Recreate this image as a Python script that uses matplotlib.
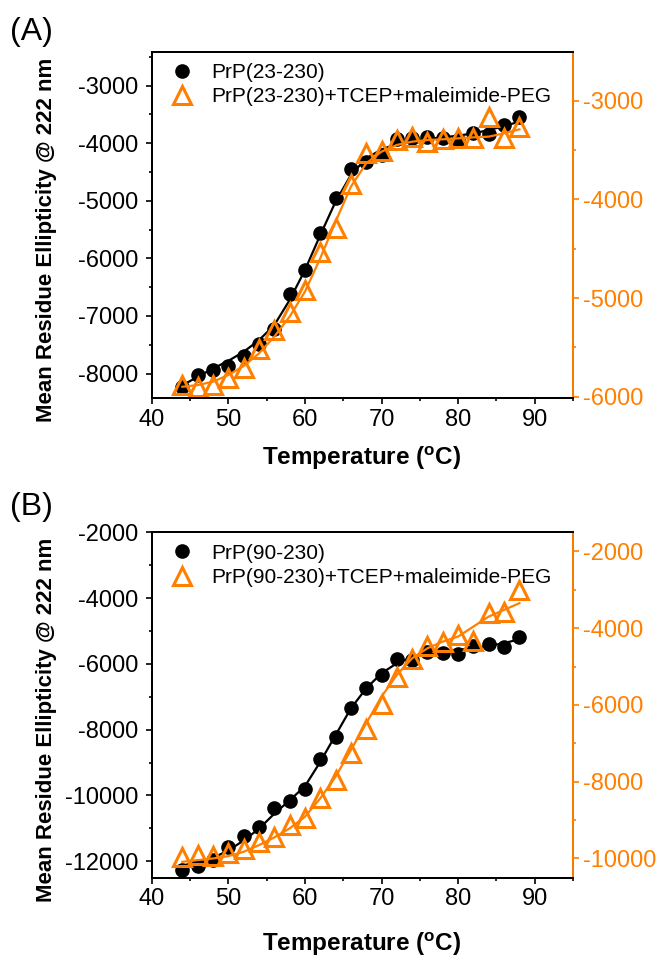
import matplotlib.pyplot as plt
from matplotlib.ticker import MultipleLocator

plt.rcParams['font.family'] = 'Liberation Sans'
plt.rcParams['axes.unicode_minus'] = False

orange = '#FF8000'

temp = [44, 46, 48, 50, 52, 54, 56, 58, 60, 62, 64, 66,
        68, 70, 72, 74, 76, 78, 80, 82, 84, 86, 88]

# (A) PrP(23-230)
a_wt = [-8232, -8029, -7942, -7872, -7693, -7479, -7235, -6621, -6204, -5567, -4958, -4454,
        -4321, -4205, -3927, -3915, -3898, -3904, -3944, -3828, -3846, -3684, -3550]
a_wt_fit = [-8203, -8058, -7913, -7780, -7623, -7421, -7160, -6725, -6204, -5596, -5016, -4553,
            -4263, -4107, -4014, -3962, -3927, -3898, -3869, -3828, -3771, -3701, -3626]
a_peg = [-5882, -5899, -5882, -5807, -5713, -5520, -5324, -5139, -4919, -4530, -4294, -3845,
         -3534, -3510, -3399, -3365, -3422, -3389, -3382, -3375, -3162, -3382, -3270]
a_peg_fit = [-5899, -5882, -5848, -5780, -5689, -5561, -5392, -5189, -4936, -4598, -4226, -3872,
             -3635, -3517, -3449, -3416, -3399, -3392, -3382, -3372, -3365, -3331, -3291]

# (B) PrP(90-230)
b_wt = [-12254, -12153, -11960, -11553, -11248, -10963, -10374, -10181, -9804, -8879, -8218, -7334,
        -6724, -6338, -5840, -5881, -5626, -5657, -5708, -5443, -5393, -5474, -5189]
b_wt_fit = [-12132, -12030, -11898, -11675, -11370, -11014, -10557, -10150, -9723, -8981, -8168, -7355,
            -6745, -6287, -5982, -5799, -5697, -5626, -5575, -5525, -5453, -5372, -5250]
b_peg = [-9957, -9913, -9939, -9870, -9765, -9565, -9435, -9130, -8957, -8435, -7957, -7261,
         -6635, -5974, -5261, -4800, -4461, -4348, -4174, -4330, -3591, -3583, -3000]
b_peg_fit = [-10087, -10043, -10000, -9939, -9826, -9652, -9452, -9217, -8913, -8435, -7870, -7174,
             -6478, -5783, -5217, -4783, -4522, -4348, -4217, -3957, -3696, -3522, -3348]


def panel(rect, wt, wt_fit, peg, peg_fit, names, ylim1, ylim2, step1, step2, tag, tag_y, ylab_y, xlab_y):
    ax = fig.add_axes(rect)
    ax2 = ax.twinx()

    ax.plot(temp, wt_fit, color='black', lw=1.6)
    h1, = ax.plot(temp, wt, 'o', color='black', ms=9.5, ls='none')
    ax2.plot(temp, peg_fit, color=orange, lw=1.6)
    h2, = ax2.plot(temp, peg, '^', mfc='none', mec=orange, mew=2.2, ms=13, ls='none')

    ax.set_xlim(40, 95)
    ax.set_ylim(*ylim1)
    ax2.set_ylim(*ylim2)
    ax.xaxis.set_major_locator(MultipleLocator(10))
    ax.xaxis.set_minor_locator(MultipleLocator(5))
    ax.yaxis.set_major_locator(MultipleLocator(step1))
    ax.yaxis.set_minor_locator(MultipleLocator(step1 / 2))
    ax2.yaxis.set_major_locator(MultipleLocator(step2))
    ax2.yaxis.set_minor_locator(MultipleLocator(step2 / 2))

    for a in (ax, ax2):
        for s in a.spines.values():
            s.set_linewidth(1.4)
    ax2.spines['right'].set_color(orange)

    ax.tick_params(axis='both', which='major', direction='out', length=4.5, width=1.2, labelsize=17)
    ax.tick_params(axis='both', which='minor', direction='out', length=2.5, width=1.2)
    ax.tick_params(axis='x', which='both', top=False, pad=3)
    ax.tick_params(axis='y', which='major', pad=5)
    ax2.tick_params(axis='y', which='major', direction='out', length=4.5, width=1.2,
                    colors=orange, labelsize=17, pad=3)
    ax2.tick_params(axis='y', which='minor', direction='out', length=2.5, width=1.2, colors=orange)

    ax2.legend([h1, h2], names, loc='upper left', bbox_to_anchor=(0.047, 0.967),
               frameon=False, fontsize=15, handlelength=1.0, handletextpad=0.93,
               labelspacing=0.25, borderpad=0, borderaxespad=0)

    fig.text(10 / W, 1 - tag_y / H, tag, fontsize=23, ha='left', va='baseline')
    fig.text(47 / W, 1 - ylab_y / H, 'Mean Residue Ellipticity @ 222 nm', fontsize=16,
             fontweight='bold', rotation=90, ha='center', va='center')
    fig.text(362 / W, 1 - xlab_y / H, r'Temperature ($\mathregular{^o}$C)', fontsize=17.5,
             fontweight='bold', ha='center', va='baseline')


W, H = 661, 957
fig = plt.figure(figsize=(W / 100, H / 100), dpi=100)

panel([0.2295, 0.5838, 0.6374, 0.3622], a_wt, a_wt_fit, a_peg, a_peg_fit,
      ['PrP(23-230)', 'PrP(23-230)+TCEP+maleimide-PEG'],
      (-8430, -2410), (-6016, -2504), 1000, 1000, '(A)', 40, 240, 465)
panel([0.2295, 0.0829, 0.6374, 0.3609], b_wt, b_wt_fit, b_peg, b_peg_fit,
      ['PrP(90-230)', 'PrP(90-230)+TCEP+maleimide-PEG'],
      (-12500, -2000), (-10500, -1500), 2000, 2000, '(B)', 515, 720, 951)

fig.savefig('out.png', dpi=100)
